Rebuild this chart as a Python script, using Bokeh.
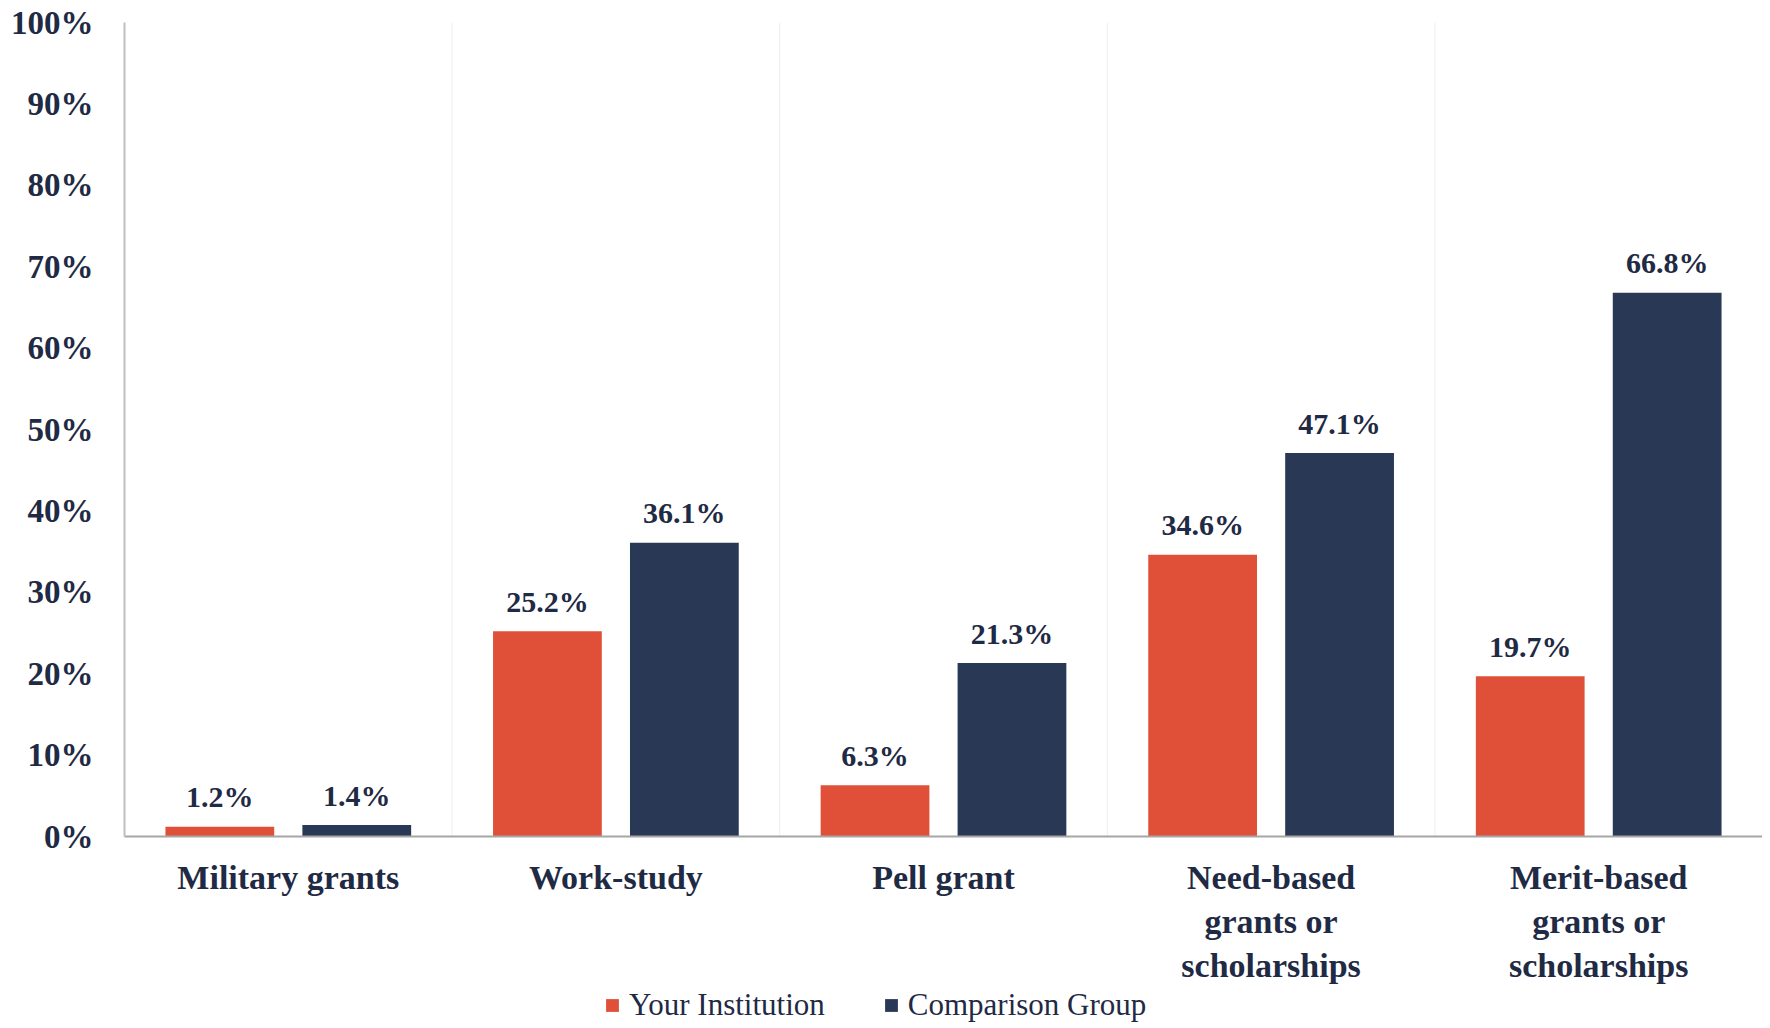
from bokeh.plotting import figure
from bokeh.layouts import column
from bokeh.models import (FactorRange, Range1d, ColumnDataSource, Legend, LegendItem,
                          FixedTicker, PrintfTickFormatter)
from bokeh.transform import dodge
from bokeh.embed import file_html
from bokeh.resources import INLINE
from bokeh.core.properties import value

# ---- data ----
categories = ["Military grants", "Work-study", "Pell grant",
              "Need-based\ngrants or\nscholarships", "Merit-based\ngrants or\nscholarships"]
your_institution = [1.2, 25.2, 6.3, 34.6, 19.7]
comparison_group = [1.4, 36.1, 21.3, 47.1, 66.8]
series_names = ["Your Institution", "Comparison Group"]
y_ticks = [0, 10, 20, 30, 40, 50, 60, 70, 80, 90, 100]

# ---- style ----
RED = "#E05038"
NAVY = "#293854"
TEXT = "#1F2A44"
FONT = "Liberation Serif"

p = figure(x_range=FactorRange(*categories), y_range=Range1d(0, 100),
           frame_width=1638, frame_height=814, output_backend="svg", toolbar_location=None,
           min_border_left=124, min_border_right=0, min_border_top=22, min_border_bottom=0)
p.outline_line_color = None
p.xgrid.grid_line_color = None
p.ygrid.grid_line_color = None
p.background_fill_color = "white"
p.border_fill_color = "white"

src = ColumnDataSource(dict(
    cat=categories,
    yours=your_institution,
    comp=comparison_group,
    yours_lbl=[f"{v:.1f}%" for v in your_institution],
    comp_lbl=[f"{v:.1f}%" for v in comparison_group],
))

# category boundary lines
bsrc = ColumnDataSource(dict(cat=categories[1:], y0=[0] * 4, y1=[100] * 4))
p.segment(x0=dodge("cat", -0.5, range=p.x_range), y0="y0",
          x1=dodge("cat", -0.5, range=p.x_range), y1="y1",
          source=bsrc, line_color="#EEEEEE", line_width=1)

off = 0.209
bw = 0.332
p.vbar(x=dodge("cat", -off, range=p.x_range), top="yours", width=bw, source=src,
       fill_color=RED, line_color=None)
p.vbar(x=dodge("cat", off, range=p.x_range), top="comp", width=bw, source=src,
       fill_color=NAVY, line_color=None)

for xoff, col, lbl in [(-off, "yours", "yours_lbl"), (off, "comp", "comp_lbl")]:
    p.text(x=dodge("cat", xoff, range=p.x_range), y=col, text=lbl, source=src,
           text_font=value(FONT), text_font_style="bold", text_font_size="30px",
           text_color=TEXT, text_align="center", text_baseline="middle", y_offset=-30)

# y axis
p.yaxis.ticker = FixedTicker(ticks=y_ticks)
p.yaxis.formatter = PrintfTickFormatter(format="%d%%")
p.yaxis.major_label_text_font = FONT
p.yaxis.major_label_text_font_style = "bold"
p.yaxis.major_label_text_font_size = "33px"
p.yaxis.major_label_text_color = TEXT
p.yaxis.major_label_standoff = 25
p.yaxis.major_tick_line_color = None
p.yaxis.minor_tick_line_color = None
p.yaxis.axis_line_color = "#BFBFBF"
p.yaxis.axis_line_width = 2

# x axis
xa = p.xaxis[0]
xa.major_label_text_font = FONT
xa.major_label_text_font_style = "bold"
xa.major_label_text_font_size = "34px"
xa.major_label_text_color = TEXT
xa.major_label_standoff = 22
xa.major_tick_line_color = None
xa.major_tick_out = 0
xa.major_tick_in = 0
xa.minor_tick_line_color = None
xa.axis_line_color = "#A6A6A6"
xa.axis_line_width = 2

# legend strip below the chart (same series, drawn out of view; only the legend shows)
pl = figure(width=1762, height=36, x_range=FactorRange(*categories), y_range=Range1d(1000, 1001),
            x_axis_type=None, y_axis_type=None, output_backend="svg", toolbar_location=None,
            min_border_left=0, min_border_right=0, min_border_top=0, min_border_bottom=0)
pl.outline_line_color = None
pl.xgrid.grid_line_color = None
pl.ygrid.grid_line_color = None
l1 = pl.vbar(x="cat", top="yours", width=bw, source=src, fill_color=RED, line_color=None)
l2 = pl.vbar(x="cat", top="comp", width=bw, source=src, fill_color=NAVY, line_color=None)

legend = Legend(items=[LegendItem(label=series_names[0], renderers=[l1]),
                       LegendItem(label=series_names[1], renderers=[l2])],
                orientation="horizontal", location=(480, 0),
                label_text_font=FONT, label_text_font_size="31px",
                label_text_color=TEXT, glyph_width=16, glyph_height=16,
                label_standoff=9, spacing=58, padding=0, margin=0,
                border_line_color=None, background_fill_alpha=0)
pl.add_layout(legend, "center")

layout = column(p, pl, spacing=0)
open("out.html", "w").write(file_html(layout, INLINE))
